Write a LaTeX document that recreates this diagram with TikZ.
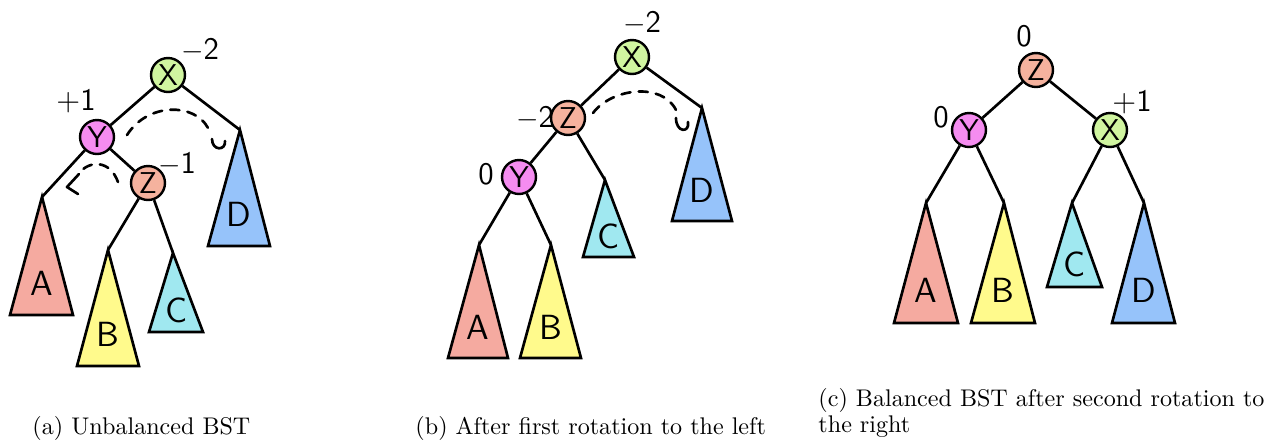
\documentclass[tikz,border=0pt]{standalone}
\usetikzlibrary{arrows.meta}
\definecolor{colX}{RGB}{208,245,160}
\definecolor{colY}{RGB}{245,140,240}
\definecolor{colZ}{RGB}{245,178,158}
\definecolor{colA}{RGB}{245,170,160}
\definecolor{colB}{RGB}{255,250,140}
\definecolor{colC}{RGB}{160,232,240}
\definecolor{colD}{RGB}{150,195,250}
\tikzset{
  bnode/.style={circle, draw, line width=1pt, minimum size=14.1pt, inner sep=0pt,
    font=\sffamily\fontsize{12.5}{12.5}\selectfont},
  edge/.style={line width=1.1pt},
  tri/.style={draw, line width=1.1pt, line join=miter},
  lbl/.style={font=\sffamily\fontsize{14.5}{14.5}\selectfont},
  bal/.style={font=\sffamily\fontsize{13}{13}\selectfont, inner sep=0pt},
  dsh/.style={line width=1.1pt, dash pattern=on 3.8pt off 3.4pt, line cap=round},
  hk/.style={line width=1.1pt, line cap=round, line join=round},
  captext/.style={anchor=base west, inner sep=0pt, font=\normalsize}
}
% #1 name, #2 apex x, #3 apex y, #4 left x, #5 right x, #6 base y, #7 colour, #8 letter
\newcommand\subtree[8]{%
  \coordinate (#1) at (#2,#3);
  \filldraw[tri, fill=#7] (#1) -- (#4,#6) -- (#5,#6) -- cycle;
  \node[lbl] (#1l) at ({(#4+#5)/2},{#3+0.73*(#6-#3)}) {#8};
}
\begin{document}
\begin{tikzpicture}[x=0.415pt,y=-0.415pt]
\useasboundingbox (0,0) rectangle (1268,441);

% ---------- (a) ----------
\subtree{aA}{42}{197}{10}{73}{315}{colA}{A}
\subtree{aB}{108}{250}{77}{139}{366}{colB}{B}
\subtree{aC}{173}{253}{149}{203}{332}{colC}{C}
\subtree{aD}{240}{130}{208}{270}{246}{colD}{D}
\node[bnode, fill=colX] (aX) at (168,75) {X};
\node[bnode, fill=colY] (aY) at (97,137) {Y};
\node[bnode, fill=colZ] (aZ) at (148,183) {Z};
\draw[edge] (aX) -- (aY);
\draw[edge] (aX) -- (aD);
\draw[edge] (aY) -- (aA);
\draw[edge] (aY) -- (aZ);
\draw[edge] (aZ) -- (aB);
\draw[edge] (aZ) -- (aC);
\node[bal] (aXb) at (200,50) {$-$2};
\node[bal] (aYb) at (76,101) {+1};
\node[bal] (aZb) at (177,164) {$-$1};
\draw[dsh] (127,135) .. controls (148,102) and (195,103) .. (208,128);
\draw[hk] (212,139) .. controls (212,151) and (226,151) .. (225,141);
\draw[dsh] (118,182) .. controls (110,160) and (90,160) .. (79,173);
\draw[hk] (79,174) -- (67,187) -- (78,194);

% ---------- (b) ----------
\subtree{bA}{479}{245}{448}{508}{358}{colA}{A}
\subtree{bB}{551}{245}{520}{581}{358}{colB}{B}
\subtree{bC}{605}{180}{583}{634}{257}{colC}{C}
\subtree{bD}{702}{108}{672}{732}{221}{colD}{D}
\node[bnode, fill=colX] (bX) at (632,57) {X};
\node[bnode, fill=colZ] (bZ) at (568,118) {Z};
\node[bnode, fill=colY] (bY) at (519,177) {Y};
\draw[edge] (bX) -- (bZ);
\draw[edge] (bX) -- (bD);
\draw[edge] (bZ) -- (bY);
\draw[edge] (bZ) -- (bC);
\draw[edge] (bY) -- (bA);
\draw[edge] (bY) -- (bB);
\node[bal] (bXb) at (642,23) {$-$2};
\node[bal] (bZb) at (535,118) {$-$2};
\node[bal] (bYb) at (486,174) {0};
\draw[dsh] (593,113) .. controls (612,88) and (662,82) .. (676,110);
\draw[hk] (676,118) .. controls (676,133) and (690,133) .. (688,122);

% ---------- (c) ----------
\subtree{cA}{926}{203}{894}{958}{323}{colA}{A}
\subtree{cB}{1004}{203}{971}{1035}{323}{colB}{B}
\subtree{cC}{1072}{203}{1047}{1102}{287}{colC}{C}
\subtree{cD}{1144}{203}{1112}{1175}{323}{colD}{D}
\node[bnode, fill=colZ] (cZ) at (1036,70) {Z};
\node[bnode, fill=colY] (cY) at (969,130) {Y};
\node[bnode, fill=colX] (cX) at (1110,130) {X};
\draw[edge] (cZ) -- (cY);
\draw[edge] (cZ) -- (cX);
\draw[edge] (cY) -- (cA);
\draw[edge] (cY) -- (cB);
\draw[edge] (cX) -- (cC);
\draw[edge] (cX) -- (cD);
\node[bal] (cZb) at (1024,36) {0};
\node[bal] (cYb) at (941,117) {0};
\node[bal] (cXb) at (1132,102) {+1};

% ---------- captions ----------
\node[captext] (capa) at (32,434) {(a) Unbalanced BST};
\node[captext] (capb) at (415,434) {(b) After first rotation to the left};
\node[captext] (capc1) at (818,406) {(c) Balanced BST after second rotation to};
\node[captext] (capc2) at (818,432) {the right};
\end{tikzpicture}
\end{document}
